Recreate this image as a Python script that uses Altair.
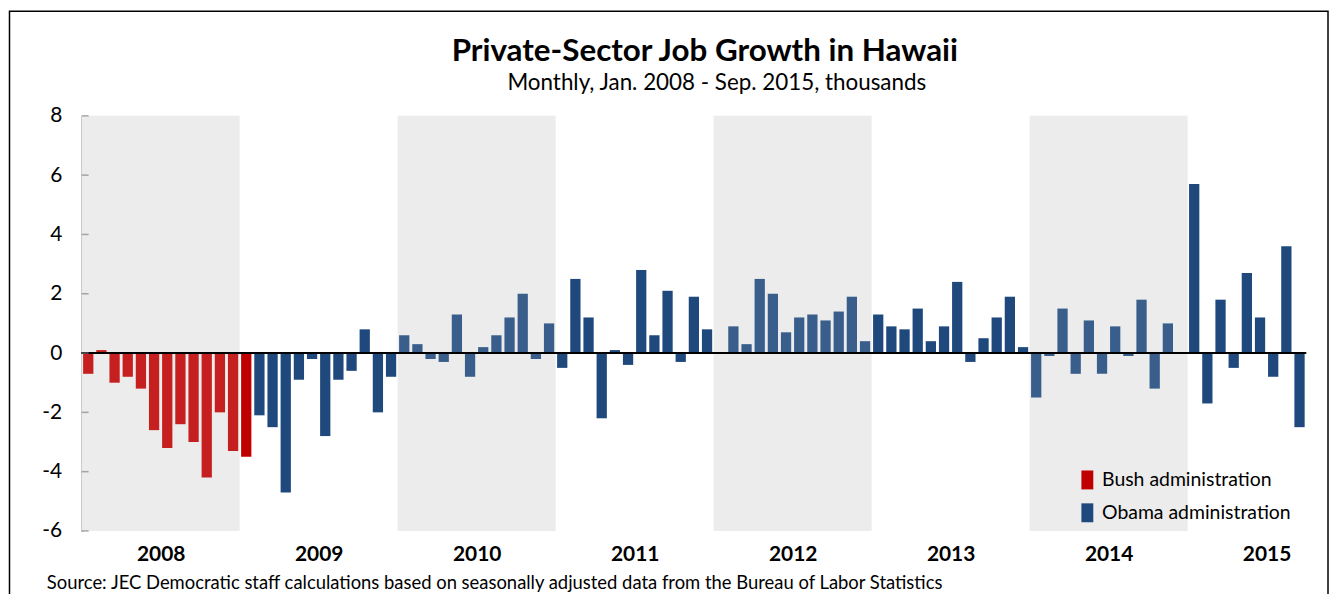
import json
import altair as alt
import pandas as pd

# ---- data (thousands, monthly change) ----
bush_values = [-0.7, 0.1, -1.0, -0.8, -1.2, -2.6, -3.2, -2.4, -3.0, -4.2, -2.0, -3.3, -3.5]
obama_values = [
    -2.1, -2.5, -4.7, -0.9, -0.2, -2.8, -0.9, -0.6, 0.8, -2.0, -0.8,          # Feb-Dec 2009
    0.6, 0.3, -0.2, -0.3, 1.3, -0.8, 0.2, 0.6, 1.2, 2.0, -0.2, 1.0,            # 2010
    -0.5, 2.5, 1.2, -2.2, 0.1, -0.4, 2.8, 0.6, 2.1, -0.3, 1.9, 0.8,            # 2011
    0.0, 0.9, 0.3, 2.5, 2.0, 0.7, 1.2, 1.3, 1.1, 1.4, 1.9, 0.4,                # 2012
    1.3, 0.9, 0.8, 1.5, 0.4, 0.9, 2.4, -0.3, 0.5, 1.2, 1.9, 0.2,               # 2013
    -1.5, -0.1, 1.5, -0.7, 1.1, -0.7, 0.9, -0.1, 1.8, -1.2, 1.0, 0.0,          # 2014
    5.7, -1.7, 1.8, -0.5, 2.7, 1.2, -0.8, 3.6, -2.5,                           # Jan-Sep 2015
]
admins = ["Bush administration", "Obama administration"]
admin_colors = ["#C00000", "#1F497D"]
years = ["2008", "2009", "2010", "2011", "2012", "2013", "2014", "2015"]
shaded_years = [2008, 2010, 2012, 2014]
y_ticks = [-6, -4, -2, 0, 2, 4, 6, 8]

title = "Private-Sector Job Growth in Hawaii"
subtitle = "Monthly, Jan. 2008 - Sep. 2015, thousands"
source = "Source: JEC Democratic staff calculations based on seasonally adjusted data from the Bureau of Labor Statistics"

values = bush_values + obama_values
bars_df = pd.DataFrame({
    "idx": list(range(len(values))),
    "value": values,
    "admin": [admins[0]] * len(bush_values) + [admins[1]] * len(obama_values),
})
bands_df = pd.DataFrame({"year": shaded_years})
ticks_df = pd.DataFrame({"t": y_ticks})
source_df = pd.DataFrame({"t": [source]})
title_df = pd.DataFrame({"t": [title]})
subtitle_df = pd.DataFrame({"t": [subtitle]})

FONT = "Lato"
N = len(years) * 12 - 3  # 93 months

x_scale = alt.Scale(domain=[0, N], nice=False, zero=False)
y_scale = alt.Scale(domain=[-6, 8], nice=False)
label_arr = json.dumps(years)
x_axis = alt.Axis(
    values=[6 + 12 * i for i in range(len(years))],
    labelExpr=f"{label_arr}[floor(datum.value/12)]",
    title=None, ticks=False, tickSize=0, domain=False, grid=False,
    labelFont=FONT, labelFontSize=21, labelFontWeight="bold", labelColor="black",
    labelPadding=13, labelFlush=False, labelOverlap=False,
)
y_axis = alt.Axis(
    values=y_ticks, title=None, ticks=False, tickSize=0, grid=False,
    labelExpr="toString(datum.value)",
    domainColor="#868686", domainWidth=1.5,
    labelFont=FONT, labelFontSize=21, labelColor="black", labelPadding=20,
)

bands = alt.Chart(bands_df).transform_calculate(
    s="(datum.year - 2008) * 12", e="(datum.year - 2008) * 12 + 12"
).mark_rect(color="#ECECEC").encode(
    x=alt.X("s:Q", scale=x_scale, axis=x_axis),
    x2="e:Q",
    y=alt.Y(datum=8, scale=y_scale, axis=y_axis),
    y2=alt.Y2(datum=-6),
)

bars = alt.Chart(bars_df).transform_calculate(
    x0="datum.idx + 0.11", x1="datum.idx + 0.89"
).mark_rect().encode(
    x=alt.X("x0:Q", scale=x_scale, axis=x_axis),
    x2="x1:Q",
    y=alt.Y("value:Q", scale=y_scale, axis=y_axis),
    y2=alt.Y2(datum=0),
    color=alt.Color(
        "admin:N",
        scale=alt.Scale(domain=admins, range=admin_colors),
        legend=alt.Legend(
            title=None, orient="none", legendX=1000.5, legendY=356,
            symbolType="M-0.63,-1L0.63,-1L0.63,1L-0.63,1Z",
            symbolSize=361, symbolStrokeWidth=0,
            labelFont=FONT, labelFontSize=19.5, labelColor="black",
            labelOffset=5, rowPadding=12, padding=0, labelLimit=400,
        ),
    ),
)

tint = alt.Chart(bands_df).transform_calculate(
    s="(datum.year - 2008) * 12", e="(datum.year - 2008) * 12 + 12"
).mark_rect(color="#ECECEC", opacity=0.13).encode(
    x=alt.X("s:Q", scale=x_scale, axis=x_axis),
    x2="e:Q",
    y=alt.Y(datum=8, scale=y_scale, axis=y_axis),
    y2=alt.Y2(datum=-6),
)

zero = alt.Chart(bands_df).mark_rule(color="black", strokeWidth=1.5).encode(
    y=alt.Y(datum=0, scale=y_scale, axis=y_axis),
)

yticks = alt.Chart(ticks_df).mark_tick(
    orient="horizontal", size=7, thickness=1.5, color="#868686"
).encode(
    y=alt.Y("t:Q", scale=y_scale, axis=y_axis),
    x=alt.value(3.5),
)

title_txt = alt.Chart(title_df).mark_text(
    align="center", baseline="alphabetic", font=FONT, fontSize=31.5,
    fontWeight="bold", color="black"
).encode(x=alt.value(626), y=alt.value(-55), text="t:N")

subtitle_txt = alt.Chart(subtitle_df).mark_text(
    align="center", baseline="alphabetic", font=FONT, fontSize=22.5, color="black"
).encode(x=alt.value(638), y=alt.value(-26), text="t:N")

src = alt.Chart(source_df).mark_text(
    align="left", baseline="middle", font=FONT, fontSize=18.5, color="black"
).encode(
    x=alt.value(-35), y=alt.value(469), text="t:N",
)

frame = alt.Chart(source_df).mark_rect(
    filled=False, stroke="black", strokeWidth=1.5
).encode(
    x=alt.value(-72.5), x2=alt.value(1252), y=alt.value(-105), y2=alt.value(560),
)

chart = alt.layer(
    bands, bars, tint, zero, yticks, title_txt, subtitle_txt, src, frame
).properties(
    width=1230,
    height=417,
    background="white",
    autosize=alt.AutoSizeParams(type="none"),
    padding={"left": 74, "top": 107, "right": 24, "bottom": 62},
).configure_view(stroke=None)

chart.save("out.html", embed_options={"renderer": "svg", "actions": False})
